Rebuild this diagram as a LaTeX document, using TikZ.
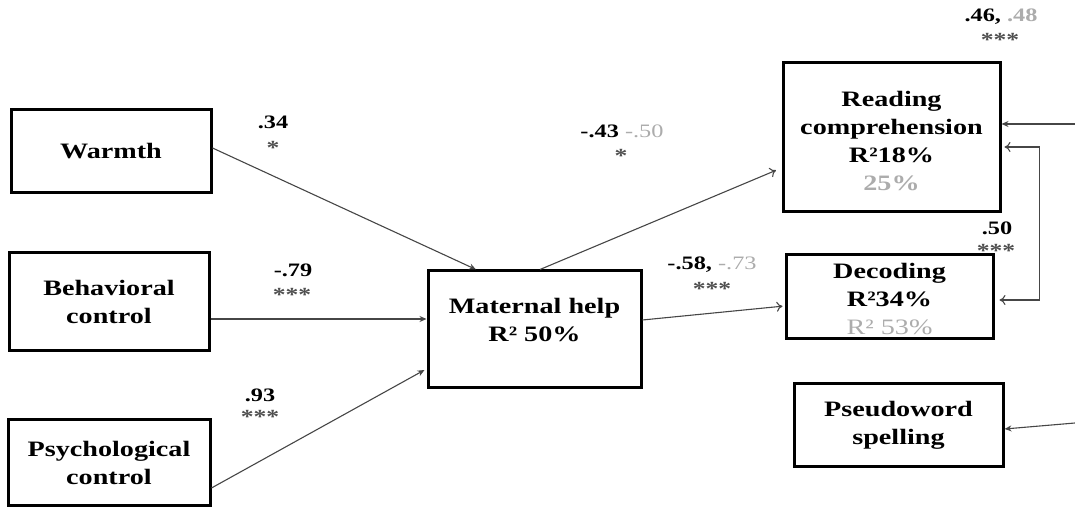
\documentclass[tikz,border=0pt]{standalone}
\usepackage{fontspec}
\setmainfont{Liberation Serif}[FakeStretch=1.28]
\usetikzlibrary{arrows.meta}
\definecolor{lgray}{RGB}{172,172,172}
\definecolor{dgray}{RGB}{80,80,80}
\definecolor{lineg}{RGB}{70,70,70}
\begin{document}
\begin{tikzpicture}[x=1pt,y=1pt,
  boxnode/.style={draw=black,line width=3pt,inner sep=0pt,align=center,
    font=\fontsize{22}{28}\selectfont\bfseries},
  boxtext/.style={inner sep=0pt,align=center,font=\fontsize{22}{28}\selectfont\bfseries},
  coef/.style={inner sep=0pt,font=\fontsize{19}{22}\selectfont\bfseries},
  stars/.style={inner sep=0pt,text=dgray,font=\fontsize{20}{22}\selectfont\bfseries},
  path/.style={draw=lineg,line width=1.1pt,-{Stealth[length=7pt,width=6pt]}},
  opath/.style={draw=lineg,line width=1.1pt,-{To[length=6pt,width=10pt]}},
  dpath/.style={draw=lineg,line width=1.1pt,{To[length=6pt,width=10pt]}-{To[length=6pt,width=10pt]}}
]
\useasboundingbox (0,0) rectangle (1075,510);
% boxes
\node[boxnode,minimum width=200pt,minimum height=83pt] (w) at (111,358.5) {Warmth};
\node[boxnode,minimum width=200pt,minimum height=98pt] (bc) at (109,208) {Behavioral\\control};
\node[boxnode,minimum width=202pt,minimum height=86pt] (pc) at (109,47) {Psychological\\control};
\node[boxnode,minimum width=213pt,minimum height=117pt] (mh) at (534.5,180.5) {};
\node[boxtext] (mht) at (534.5,190) {Maternal help\\R² 50\%};
\node[boxnode,minimum width=217pt,minimum height=149pt] (rc) at (891.5,372.5) {};
\node[boxtext] (rct) at (891.5,369) {Reading\\comprehension\\R²18\%\\\textcolor{lgray}{25\%}};
\node[boxnode,minimum width=207pt,minimum height=84pt] (dec) at (889.5,213) {};
\node[boxtext] (dect) at (889.5,211) {Decoding\\R²34\%\\\textcolor{lgray}{\mdseries R² 53\%}};
\node[boxnode,minimum width=209pt,minimum height=83pt] (ps) at (898.5,84.5) {Pseudoword\\spelling};
% free ends
\coordinate (e1) at (1075,386);
\coordinate (e2) at (1075,87);
% connectors
\draw[path] ([yshift=3.5pt]w.east) -- ([xshift=-58.5pt]mh.north);
\draw[path] ([yshift=-17pt]bc.east) -- ([yshift=-17pt]bc.east -| mh.west);
\draw[path] ([yshift=-25pt]pc.east) -- ([xshift=-2pt,yshift=-40.5pt]mh.west);
\draw[opath,shorten >=6pt] ([xshift=5.5pt]mh.north) -- ([yshift=-30.5pt]rc.west);
\draw[opath,shorten >=2pt] ([yshift=9.5pt]mh.east) -- ([yshift=-9pt]dec.west);
\draw[path] (e1) -- ([yshift=13.5pt]rc.east);
\draw[path] (e2) -- ([yshift=-3.5pt]ps.east);
\draw[dpath,shorten <=3pt,shorten >=5pt] ([yshift=-9.5pt]rc.east) -- ++(38,0) |- ([yshift=-3pt]dec.east);
% coefficients
\node[coef] (c1) at (1001,493) {.46, \textcolor{lgray}{.48}};
\node[stars] (s1) at (1000,470) {***};
\node[coef] (c2) at (273,388) {.34};
\node[stars] (s2) at (273,362) {*};
\node[coef] (c3) at (622,379) {-.43 \textcolor{lgray}{\mdseries -.50}};
\node[stars] (s3) at (621,354) {*};
\node[coef] (c4) at (293,240) {-.79};
\node[stars] (s4) at (292,215) {***};
\node[coef] (c5) at (712,245) {-.58, \textcolor{lgray}{\mdseries -.73}};
\node[stars] (s5) at (712,221) {***};
\node[coef] (c6) at (260,115) {.93};
\node[stars] (s6) at (260,93) {***};
\node[coef] (c7) at (997,282) {.50};
\node[stars] (s7) at (996,259) {***};
\end{tikzpicture}
\end{document}
